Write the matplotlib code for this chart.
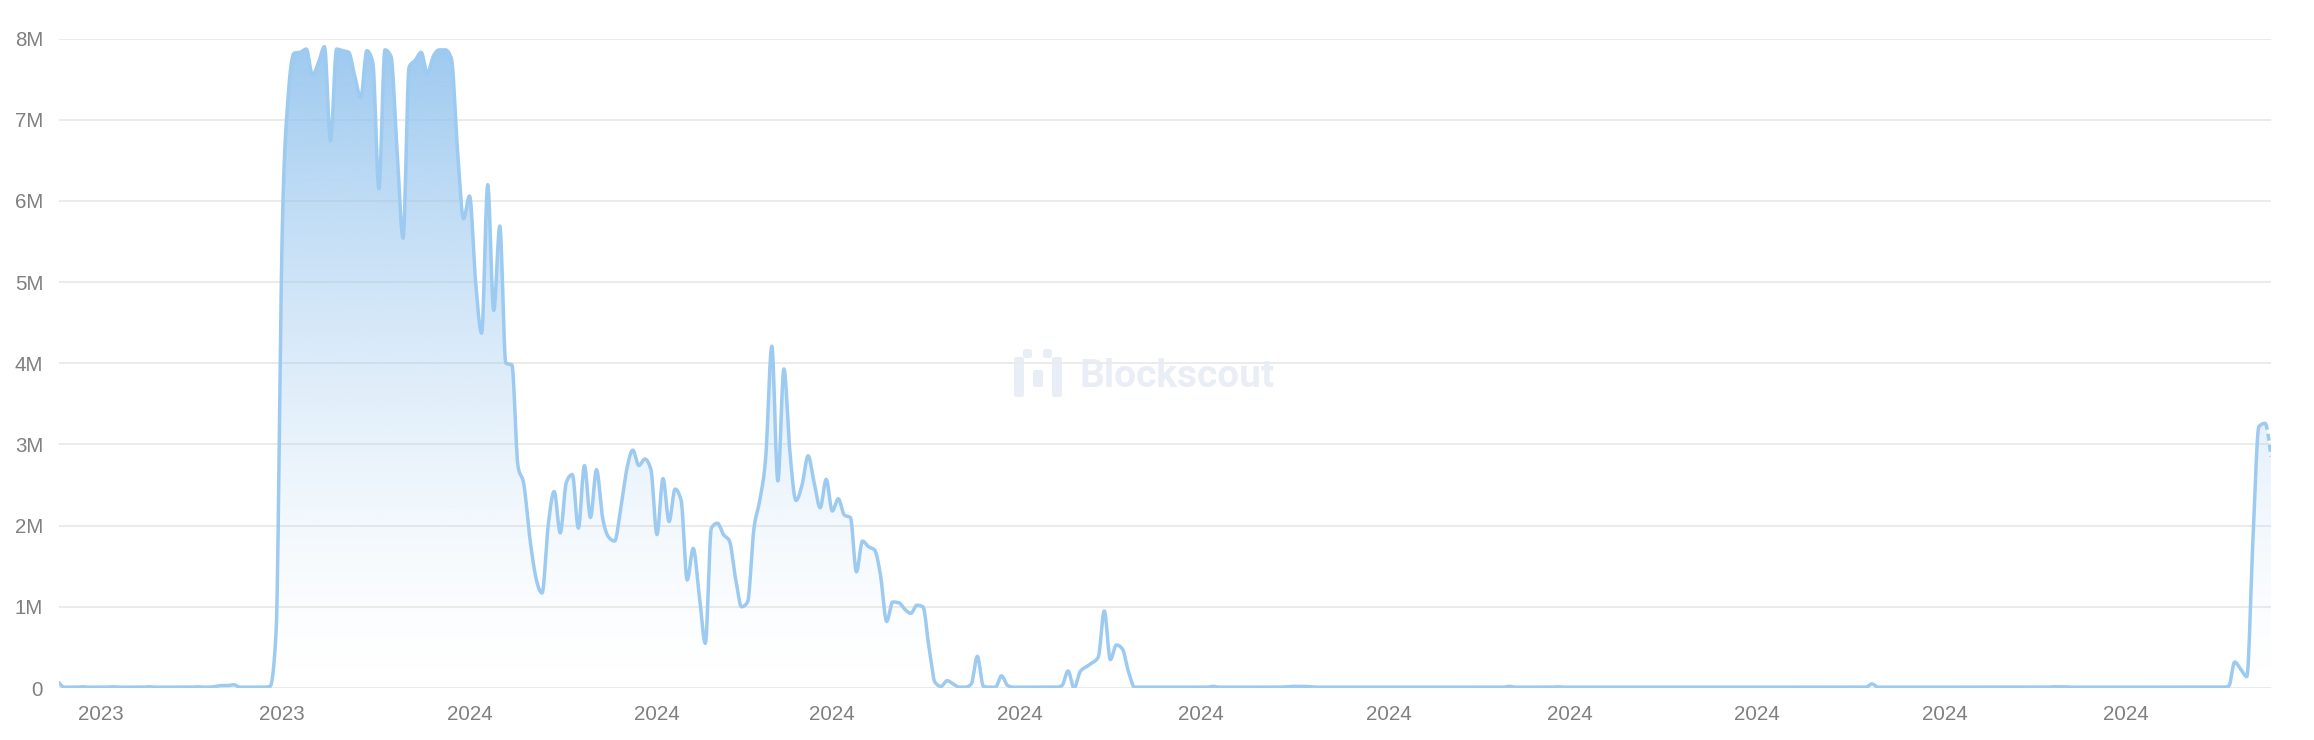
import numpy as np
import pandas as pd
import matplotlib
matplotlib.use("Agg")
import matplotlib.pyplot as plt
import matplotlib.dates as mdates
from matplotlib.patches import PathPatch, FancyBboxPatch
from matplotlib.path import Path
from matplotlib.colors import to_rgb

# ---------------- data ----------------
start_date = "2023-10-25"
# daily values, in millions
values_m = [
    0.07, 0.01, 0.01, 0.01, 0.015, 0.01, 0.01, 0.01, 0.01, 0.015,
    0.01, 0.01, 0.01, 0.01, 0.01, 0.015, 0.01, 0.01, 0.01, 0.01,
    0.01, 0.01, 0.01, 0.015, 0.01, 0.01, 0.02, 0.03, 0.03, 0.04,
    0.01, 0.01, 0.01, 0.01, 0.01, 0.02, 0.7, 5.6, 7.3, 7.82,
    7.83, 7.87, 7.55, 7.7, 7.9, 6.74, 7.87, 7.85, 7.83, 7.54,
    7.27, 7.85, 7.7, 6.15, 7.86, 7.78, 6.63, 5.54, 7.65, 7.73,
    7.83, 7.57, 7.78, 7.86, 7.86, 7.75, 6.63, 5.78, 6.06, 5.0,
    4.37, 6.2, 4.65, 5.69, 4.0, 3.98, 2.74, 2.5, 1.83, 1.35,
    1.17, 2.0, 2.42, 1.91, 2.53, 2.63, 1.97, 2.74, 2.1, 2.69,
    2.1, 1.86, 1.81, 2.21, 2.69, 2.93, 2.74, 2.82, 2.69, 1.89,
    2.58, 2.05, 2.45, 2.31, 1.33, 1.72, 1.14, 0.55, 1.97, 2.03,
    1.89, 1.81, 1.35, 1.0, 1.06, 1.94, 2.31, 2.85, 4.21, 2.55,
    3.93, 2.9, 2.31, 2.5, 2.86, 2.53, 2.22, 2.57, 2.18, 2.33,
    2.13, 2.1, 1.43, 1.81, 1.74, 1.7, 1.38, 0.82, 1.06, 1.05,
    0.97, 0.92, 1.02, 1.0, 0.5, 0.07, 0.02, 0.09, 0.05, 0.01,
    0.01, 0.05, 0.39, 0.02, 0.01, 0.01, 0.15, 0.03, 0.01, 0.01,
    0.01, 0.01, 0.01, 0.01, 0.01, 0.01, 0.03, 0.21, 0.0, 0.2,
    0.26, 0.31, 0.38, 0.95, 0.35, 0.53, 0.48, 0.2, 0.01, 0.01,
    0.01, 0.01, 0.01, 0.01, 0.01, 0.01, 0.01, 0.01, 0.01, 0.01,
    0.01, 0.02, 0.01, 0.01, 0.01, 0.01, 0.01, 0.01, 0.01, 0.01,
    0.01, 0.01, 0.01, 0.015, 0.02, 0.02, 0.02, 0.015, 0.01, 0.01,
    0.01, 0.01, 0.01, 0.01, 0.01, 0.01, 0.01, 0.01, 0.01, 0.01,
    0.01, 0.01, 0.01, 0.01, 0.01, 0.01, 0.01, 0.01, 0.01, 0.01,
    0.01, 0.01, 0.01, 0.01, 0.01, 0.01, 0.01, 0.01, 0.01, 0.01,
    0.02, 0.01, 0.01, 0.01, 0.01, 0.01, 0.01, 0.01, 0.015, 0.01,
    0.01, 0.01, 0.01, 0.01, 0.01, 0.01, 0.01, 0.01, 0.01, 0.01,
    0.01, 0.01, 0.01, 0.01, 0.01, 0.01, 0.01, 0.01, 0.01, 0.01,
    0.01, 0.01, 0.01, 0.01, 0.01, 0.01, 0.01, 0.01, 0.01, 0.01,
    0.01, 0.01, 0.01, 0.01, 0.01, 0.01, 0.01, 0.01, 0.01, 0.01,
    0.01, 0.01, 0.01, 0.01, 0.01, 0.01, 0.01, 0.01, 0.01, 0.01,
    0.05, 0.01, 0.01, 0.01, 0.01, 0.01, 0.01, 0.01, 0.01, 0.01,
    0.01, 0.01, 0.01, 0.01, 0.01, 0.01, 0.01, 0.01, 0.01, 0.01,
    0.01, 0.01, 0.01, 0.01, 0.01, 0.01, 0.01, 0.01, 0.01, 0.01,
    0.015, 0.015, 0.015, 0.01, 0.01, 0.01, 0.01, 0.01, 0.01, 0.01,
    0.01, 0.01, 0.01, 0.01, 0.01, 0.01, 0.01, 0.01, 0.01, 0.01,
    0.01, 0.01, 0.01, 0.01, 0.01, 0.01, 0.01, 0.01, 0.01,
    0.02, 0.32, 0.23, 0.14, 1.8, 3.22, 3.26, 2.85,
]
ytick_values = [0, 1, 2, 3, 4, 5, 6, 7, 8]
ytick_labels = ["0", "1M", "2M", "3M", "4M", "5M", "6M", "7M", "8M"]
watermark_text = "Blockscout"

# ---------------- style ----------------
W, H = 2314, 740
line_color = "#9DCAF0"
fill_rgb = to_rgb("#93C4EE")
grid_color = "#EBEBEB"
label_color = "#808080"
wm_color = "#E9EEF6"


def monotone_curve(xv, yv, samples=12):
    """Monotone cubic (curveMonotoneX-style) rendering path through the points."""
    xv = np.asarray(xv, float)
    yv = np.asarray(yv, float)
    n = len(yv)
    h = np.diff(xv)
    s = np.diff(yv) / h
    m = np.zeros(n)
    for i in range(1, n - 1):
        s0, s1 = s[i - 1], s[i]
        h0, h1 = h[i - 1], h[i]
        p = (s0 * h1 + s1 * h0) / (h0 + h1)
        m[i] = (np.sign(s0) + np.sign(s1)) * min(abs(s0), abs(s1), 0.5 * abs(p))
    m[0] = (3 * s[0] - m[1]) / 2 if n > 2 else s[0]
    m[-1] = (3 * s[-1] - m[-2]) / 2 if n > 2 else s[-1]
    u = np.linspace(0, 1, samples, endpoint=False)
    h00 = 2 * u**3 - 3 * u**2 + 1
    h10 = u**3 - 2 * u**2 + u
    h01 = -2 * u**3 + 3 * u**2
    h11 = u**3 - u**2
    xs, ys = [], []
    for i in range(n - 1):
        xs.append(xv[i] + u * h[i])
        ys.append(h00 * yv[i] + h10 * h[i] * m[i] + h01 * yv[i + 1] + h11 * h[i] * m[i + 1])
    xs.append([xv[-1]])
    ys.append([yv[-1]])
    return np.concatenate(xs), np.concatenate(ys)


fig = plt.figure(figsize=(W / 100, H / 100), dpi=100)

# watermark layer (pixel coordinates)
wm = fig.add_axes([0, 0, 1, 1], zorder=0)
wm.set_xlim(0, W)
wm.set_ylim(H, 0)
wm.axis("off")
for (x0, y0, w, h) in [(1014, 357, 10, 40), (1023, 349, 9, 9), (1043, 349, 9, 9),
                       (1052, 357, 10, 40), (1033, 370, 10, 17)]:
    wm.add_patch(FancyBboxPatch((x0, y0), w, h, boxstyle="round,pad=0,rounding_size=2.5",
                                fc=wm_color, ec="none"))
wm.text(1080, 387, watermark_text, fontsize=28, family="Roboto", fontweight="bold",
        color=wm_color, ha="left", va="baseline")

left, right = 58.5 / W, 2271 / W
bottom, top = (H - 688) / H, (H - 38.5) / H
ax = fig.add_axes([left, bottom, right - left, top - bottom], zorder=1)
ax.patch.set_alpha(0)

dates = pd.date_range(start_date, periods=len(values_m), freq="D")
x = mdates.date2num(dates.to_pydatetime())
y = np.array(values_m)

S = 12
xs, ys = monotone_curve(x, y, samples=S)
ys = np.maximum(ys, 0)

# gradient fill under the curve
verts = np.vstack([np.column_stack([xs, ys]), [[xs[-1], 0], [xs[0], 0]]])
clip = PathPatch(Path(verts), transform=ax.transData, fc="none", ec="none")
ax.add_patch(clip)
v = np.linspace(0, 8, 400)
grad = np.zeros((400, 1, 4))
grad[:, 0, :3] = fill_rgb
grad[:, 0, 3] = 0.92 * (v / 8) ** 1.5
im = ax.imshow(grad, aspect="auto", extent=[x[0], x[-1], 0, 8], origin="lower",
               interpolation="bilinear", zorder=1)
im.set_clip_path(clip)

split = (len(y) - 2) * S
ax.plot(xs[:split + 1], ys[:split + 1], color=line_color, lw=2.5, solid_joinstyle="round",
        solid_capstyle="round", zorder=3)
ax.plot(xs[split:], ys[split:], color=line_color, lw=2.5, linestyle=(0, (2.0, 1.2)), zorder=3)

ax.set_xlim(x[0], x[-1])
ax.set_ylim(0, 8)
ax.set_yticks(ytick_values)
ax.set_yticklabels(ytick_labels)
ax.grid(axis="y", color=grid_color, lw=1.4, zorder=0)
ax.set_axisbelow(True)
for s in ax.spines.values():
    s.set_visible(False)

ax.xaxis.set_major_locator(mdates.MonthLocator())
ax.xaxis.set_major_formatter(mdates.DateFormatter("%Y"))
ax.tick_params(axis="both", length=0, labelsize=14.8, labelcolor=label_color)
ax.tick_params(axis="y", pad=11)
ax.tick_params(axis="x", pad=12)
for lab in ax.get_xticklabels() + ax.get_yticklabels():
    lab.set_family("Liberation Sans")

fig.savefig("out.png", dpi=100, facecolor="white")
